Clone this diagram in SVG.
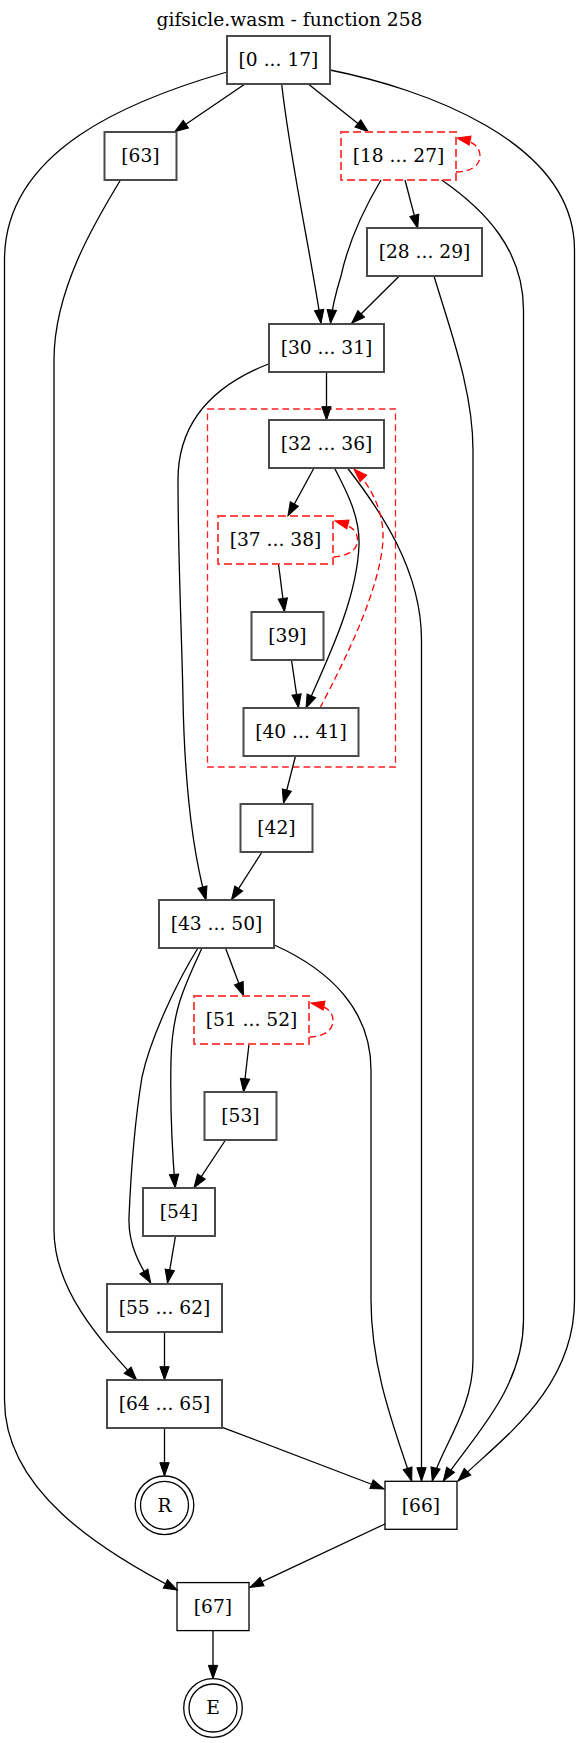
<svg xmlns="http://www.w3.org/2000/svg" width="579" height="1743" viewBox="0 0 579 1743">
<style>
text{font-family:"DejaVu Serif","Liberation Serif",serif;font-size:18.67px;fill:#000;text-anchor:middle}
.box{fill:none;stroke:#4a4a4a;stroke-width:2}
.rbox{fill:none;stroke:#ff4a4a;stroke-width:2;stroke-dasharray:8,4}
.exit{fill:none;stroke:#000;stroke-width:1.3}
.cl{fill:none;stroke:#ff2020;stroke-width:1.3;stroke-dasharray:6.7,4}
.e{fill:none;stroke:#000;stroke-width:1.3;marker-end:url(#ah)}
.re{fill:none;stroke:#ff0000;stroke-width:1.3;stroke-dasharray:6.7,4;marker-end:url(#rah)}
</style>
<defs>
<marker id="ah" markerUnits="userSpaceOnUse" markerWidth="14" markerHeight="10" refX="13.33" refY="4.67" orient="auto" overflow="visible"><path d="M0,0 L13.33,4.67 L0,9.33 Z" fill="#000" stroke="#000" stroke-width="1"/></marker>
<marker id="rah" markerUnits="userSpaceOnUse" markerWidth="14" markerHeight="10" refX="13.33" refY="4.67" orient="auto" overflow="visible"><path d="M0,0 L13.33,4.67 L0,9.33 Z" fill="#ff0000" stroke="#ff0000" stroke-width="1"/></marker>
</defs>
<rect width="579" height="1743" fill="#fff"/>
<text x="289.5" y="26">gifsicle.wasm - function 258</text>
<g id="cluster"><rect class="cl" x="207.5" y="409" width="188" height="358"/></g>
<g id="edges">
<path class="e" d="M245,84 L174.8,131.7"/>
<path class="e" d="M281.7,84 C290,160 312,260 321,323.3"/>
<path class="e" d="M308.3,84 L368.3,131.7"/>
<path class="e" d="M227,72 C130,100 4.5,150 4.5,260 L4.5,1400 C4.5,1490 100,1550 177.3,1590"/>
<path class="e" d="M330,70 C420,88 574.5,140 574.5,250 L574.5,1300 C574.5,1390 500,1440 458,1481"/>
<path class="re" d="M456,172 C470,172 480,166 480,156 C480,146 472,141 457,138"/>
<path class="e" d="M381,180 C362,212 348,244 341,276 C336,292 332,308 330.5,323.3"/>
<path class="e" d="M405,180 L417.7,228.3"/>
<path class="e" d="M441.7,180 C485,210 523.5,250 523.5,310 L523.5,1320 C523.5,1390 470,1440 443.3,1481"/>
<path class="e" d="M120.5,180 C95,222 54,290 54,360 L54,1230 C54,1290 100,1340 136.6,1380"/>
<path class="e" d="M399.3,276 L351.7,323.3"/>
<path class="e" d="M434,276 C450,330 473,390 473,450 L473,1360 C473,1410 440,1450 432.3,1481"/>
<path class="e" d="M326.5,372 L326.5,420"/>
<path class="e" d="M268.5,364 C215,385 178,420 178,480 C178,560 182,640 183,700 C185,800 195,860 206,900"/>
<path class="e" d="M314,468 L288,515.7"/>
<path class="e" d="M334.5,468 C347,492 360,517 359,545 C357,600 327,660 306,708"/>
<path class="e" d="M347.5,468 C380,510 421.5,570 421.5,640 L421.5,1481"/>
<path class="re" d="M320,708 C345,660 380,590 383,540 C384,510 370,485 354,469"/>
<path class="re" d="M333.5,557 C345,556 357.5,552 357.5,540 C357.5,530 350,525 335,521"/>
<path class="e" d="M278.5,564 L284.5,611.7"/>
<path class="e" d="M291.5,660 L298.5,707.7"/>
<path class="e" d="M295.5,756 L283.5,803"/>
<path class="e" d="M262,852 L231.5,899.7"/>
<path class="e" d="M225.5,948 L243.5,995.7"/>
<path class="e" d="M274.3,945 C330,970 371,1010 371,1070 L371,1300 C371,1370 395,1430 411.7,1481"/>
<path class="e" d="M202,948 C185,985 172,1010 171,1060 C170,1110 172,1150 175.2,1187.7"/>
<path class="e" d="M198,948 C175,985 150,1040 142,1077 C135,1120 131,1170 129,1217 C128,1245 140,1265 150.7,1283"/>
<path class="re" d="M309.5,1037 C322,1037 333,1031 333,1021 C333,1011 326,1006 311,1003"/>
<path class="e" d="M249,1044 L243.5,1092"/>
<path class="e" d="M225.5,1140 L194,1187.7"/>
<path class="e" d="M175.5,1236 L167.5,1283"/>
<path class="e" d="M164.5,1332 L164.5,1380"/>
<path class="e" d="M164.5,1428 L164.5,1476"/>
<path class="e" d="M222.3,1427.3 L384,1489"/>
<path class="e" d="M385,1524 L250,1587.3"/>
<path class="e" d="M213,1630.6 L213,1678.7"/>
</g>
<g id="n0"><rect class="box" x="227" y="36" width="103" height="48"/><text x="278.5" y="66">[0 ... 17]</text></g>
<g id="n63"><rect class="box" x="104.5" y="132" width="72" height="48"/><text x="140.5" y="162">[63]</text></g>
<g id="n18"><rect class="rbox" x="341" y="132" width="115" height="48"/><text x="398.5" y="162">[18 ... 27]</text></g>
<g id="n28"><rect class="box" x="367" y="228" width="115" height="48"/><text x="424.5" y="258">[28 ... 29]</text></g>
<g id="n30"><rect class="box" x="269" y="324" width="115" height="48"/><text x="326.5" y="354">[30 ... 31]</text></g>
<g id="n32"><rect class="box" x="269" y="420" width="115" height="48"/><text x="326.5" y="450">[32 ... 36]</text></g>
<g id="n37"><rect class="rbox" x="218" y="516" width="115" height="48"/><text x="275.5" y="546">[37 ... 38]</text></g>
<g id="n39"><rect class="box" x="251.5" y="612" width="72" height="48"/><text x="287.5" y="642">[39]</text></g>
<g id="n40"><rect class="box" x="243.5" y="708" width="115" height="48"/><text x="301" y="738">[40 ... 41]</text></g>
<g id="n42"><rect class="box" x="240.5" y="804" width="72" height="48"/><text x="276.5" y="834">[42]</text></g>
<g id="n43"><rect class="box" x="159" y="900" width="115" height="48"/><text x="216.5" y="930">[43 ... 50]</text></g>
<g id="n51"><rect class="rbox" x="194" y="996" width="115" height="48"/><text x="251.5" y="1026">[51 ... 52]</text></g>
<g id="n53"><rect class="box" x="204.5" y="1092" width="72" height="48"/><text x="240.5" y="1122">[53]</text></g>
<g id="n54"><rect class="box" x="143" y="1188" width="72" height="48"/><text x="179" y="1218">[54]</text></g>
<g id="n55"><rect class="box" x="107" y="1284" width="115" height="48"/><text x="164.5" y="1314">[55 ... 62]</text></g>
<g id="n64"><rect class="box" x="107" y="1380" width="115" height="48"/><text x="164.5" y="1410">[64 ... 65]</text></g>
<g id="nR"><circle class="exit" cx="164.5" cy="1505.3" r="24"/><circle class="exit" cx="164.5" cy="1505.3" r="29.3"/><text x="164.5" y="1511.5">R</text></g>
<g id="n66"><rect class="exit" x="385" y="1481.3" width="72" height="48"/><text x="421" y="1511.5">[66]</text></g>
<g id="n67"><rect class="exit" x="177" y="1582.6" width="72" height="48"/><text x="213" y="1612.8">[67]</text></g>
<g id="nE"><circle class="exit" cx="213" cy="1708" r="24"/><circle class="exit" cx="213" cy="1708" r="29.3"/><text x="213" y="1714.2">E</text></g>
</svg>
